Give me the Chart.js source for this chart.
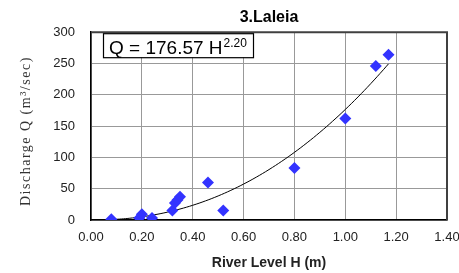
<!DOCTYPE html>
<html>
<head>
<meta charset="utf-8">
<script src="https://cdn.jsdelivr.net/npm/chart.js@4"></script>
<style>
  html, body { margin: 0; padding: 0; background: #fff; }
  #wrap { width: 459px; height: 273px; }
</style>
</head>
<body>
<div id="wrap"><canvas id="rating"></canvas></div>
<script>
// measured river level (m) and discharge (m3/sec)
const levelH = [0.08, 0.19, 0.20, 0.24, 0.32, 0.33, 0.34, 0.35, 0.46, 0.52, 0.80, 1.00, 1.12, 1.17];
const dischargeQ = [1, 3, 9, 3, 15, 27, 32, 37, 60, 15, 83, 162, 246, 264];

// power trendline shown on the chart: Q = a H^b
const coefA = 176.57;
const coefB = 2.20;
const trendH = [0.09, 0.12, 0.15, 0.2, 0.25, 0.3, 0.35, 0.4, 0.45, 0.5, 0.55, 0.6, 0.65, 0.7, 0.75, 0.8,
  0.85, 0.9, 0.95, 1.0, 1.05, 1.1, 1.15, 1.17];

const xTicks = [0, 0.2, 0.4, 0.6, 0.8, 1.0, 1.2, 1.4];
const yTicks = [0, 50, 100, 150, 200, 250, 300];

const points = levelH.map((h, i) => ({ x: h, y: dischargeQ[i] }));
const trend = trendH.map(h => ({ x: h, y: coefA * Math.pow(h, coefB) }));

const frameAndLabel = {
  id: 'frameAndLabel',
  afterDatasetsDraw(chart) {
    const { ctx, chartArea: a } = chart;
    ctx.save();
    // top and right frame
    ctx.strokeStyle = '#404040';
    ctx.lineWidth = 2;
    ctx.beginPath();
    ctx.moveTo(a.left, a.top);
    ctx.lineTo(a.right, a.top);
    ctx.lineTo(a.right, a.bottom);
    ctx.stroke();

    // equation box
    const bx = a.left + 12, by = a.top + 1, bw = 150, bh = 24;
    ctx.fillStyle = '#fff';
    ctx.fillRect(bx, by, bw, bh);
    ctx.strokeStyle = '#000';
    ctx.lineWidth = 1.2;
    ctx.strokeRect(bx + 0.5, by + 0.5, bw, bh);
    ctx.fillStyle = '#000';
    ctx.textBaseline = 'alphabetic';
    ctx.font = '19px "Liberation Sans", Arial, sans-serif';
    const main = 'Q = ' + coefA.toFixed(2) + ' H';
    ctx.fillText(main, bx + 6, by + 21);
    const w = ctx.measureText(main).width;
    ctx.font = '12px "Liberation Sans", Arial, sans-serif';
    ctx.fillText(coefB.toFixed(2), bx + 6 + w + 1, by + 14);

    // y axis title, spaced serif text
    ctx.translate(26, (a.top + a.bottom) / 2 + 5);
    ctx.rotate(-Math.PI / 2);
    ctx.fillStyle = '#333';
    ctx.font = '14px "Liberation Serif", "Times New Roman", serif';
    ctx.letterSpacing = '1.5px';
    ctx.textAlign = 'center';
    ctx.textBaseline = 'middle';
    ctx.fillText('Discharge Q (m\u00b3/sec)', 0, 0);
    ctx.restore();
  }
};

new Chart(document.getElementById('rating'), {
  type: 'scatter',
  data: {
    datasets: [{
      label: 'Measured',
      data: points,
      pointStyle: 'rectRot',
      pointRadius: 6,
      pointBackgroundColor: '#3333ff',
      pointBorderColor: '#3333ff',
      pointBorderWidth: 0,
      order: 1
    }, {
      label: 'Trend',
      type: 'line',
      data: trend,
      borderColor: '#000',
      borderWidth: 1,
      pointRadius: 0,
      tension: 0.4,
      fill: false,
      order: 2
    }]
  },
  options: {
    responsive: true,
    maintainAspectRatio: false,
    animation: false,
    layout: { padding: { left: 0, right: 0, top: 0, bottom: 0 } },
    plugins: {
      legend: { display: false },
      tooltip: { enabled: false },
      title: {
        display: true,
        fullSize: false,
        text: '3.Laleia',
        color: '#000',
        font: { family: '"Liberation Sans", Arial, sans-serif', size: 16, weight: 'bold' },
        padding: { top: 8, bottom: 5 }
      }
    },
    scales: {
      x: {
        type: 'linear',
        min: 0,
        max: 1.4,
        afterBuildTicks: s => { s.ticks = xTicks.map(v => ({ value: v })); },
        afterFit: s => { s.height = 53; s.paddingRight = 12; s.paddingLeft = 0; },
        ticks: {
          color: '#222',
          padding: 10,
          font: { family: '"Liberation Sans", Arial, sans-serif', size: 13 },
          callback: v => Number(v).toFixed(2)
        },
        grid: { color: '#999', drawTicks: false },
        border: { color: '#000', width: 1.5 },
        title: {
          display: true,
          text: 'River Level H (m)',
          color: '#222',
          font: { family: '"Liberation Sans", Arial, sans-serif', size: 14, weight: 'bold' },
          padding: { top: 0, bottom: 1 }
        }
      },
      y: {
        type: 'linear',
        min: 0,
        max: 300,
        afterBuildTicks: s => { s.ticks = yTicks.map(v => ({ value: v })); },
        afterFit: s => { s.width = 91; },
        ticks: {
          color: '#222',
          padding: 16,
          font: { family: '"Liberation Sans", Arial, sans-serif', size: 13 }
        },
        grid: { color: '#999', drawTicks: false },
        border: { color: '#000', width: 1.5 },
        title: { display: false }
      }
    }
  },
  plugins: [frameAndLabel]
});
</script>
</body>
</html>
